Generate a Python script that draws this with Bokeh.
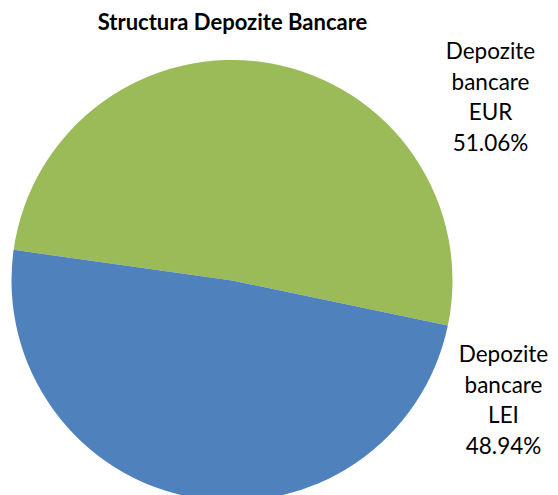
import math
from bokeh.plotting import figure
from bokeh.models import Range1d, ColumnDataSource
from bokeh.core.properties import value
from bokeh.embed import file_html
from bokeh.resources import INLINE

# ---- data ----
title = "Structura Depozite Bancare"
categories = ["Depozite bancare EUR", "Depozite bancare LEI"]
shares = [51.06, 48.94]
colors = ["#9BBB59", "#4F81BD"]

W, H = 558, 495
FONT = "Lato"

p = figure(width=W, height=H, output_backend="svg", toolbar_location=None,
           x_range=Range1d(0, W), y_range=Range1d(0, H), min_border=0)
p.axis.visible = False
p.grid.visible = False
p.outline_line_color = None
p.background_fill_color = "white"
p.border_fill_color = "white"

# pie geometry (pixel coords from top-left, converted to y-up)
cx, cy, r = 231.5, H - 280, 220.5
start_deg = -11.8  # rotation of first slice boundary

total = sum(shares)
starts, ends = [], []
a = math.radians(start_deg)
for s in shares:
    starts.append(a)
    a += 2 * math.pi * s / total
    ends.append(a)

src = ColumnDataSource(dict(x=[cx] * len(shares), y=[cy] * len(shares),
                            start=starts, end=ends, color=colors))
p.wedge(x="x", y="y", radius=r, start_angle="start", end_angle="end",
        direction="anticlock", fill_color="color", line_color=None, source=src)

# title
p.text(x=[232], y=[H - 21], text=[title], text_font=value(FONT),
       text_font_style="bold", text_font_size="22px", text_align="center",
       text_baseline="middle", text_color="black")

# labels
label_pos = [(490, 50), (503, 353)]
line_step = 30.5
lx, ly, lt = [], [], []
for cat, s, (px, py) in zip(categories, shares, label_pos):
    words = cat.split(" ")
    lines = words + [f"{s:.2f}%"]
    for i, ln in enumerate(lines):
        lx.append(px)
        ly.append(H - (py + i * line_step))
        lt.append(ln)
p.text(x=lx, y=ly, text=lt, text_font=value(FONT), text_font_size="22.5px",
       text_align="center", text_baseline="middle", text_color="black")

open("out.html", "w").write(file_html(p, INLINE))
